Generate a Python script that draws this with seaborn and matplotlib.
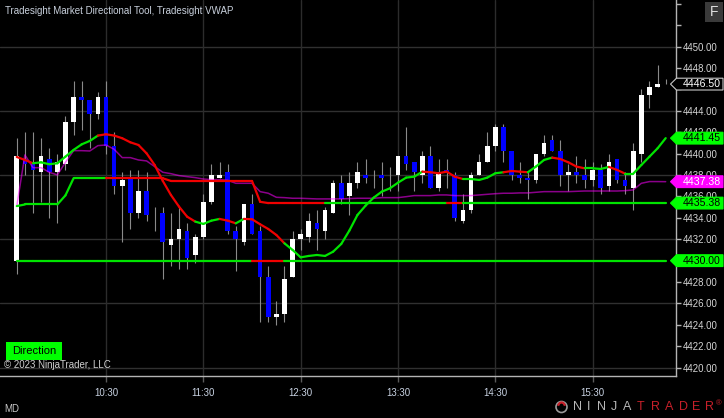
import numpy as np
import pandas as pd
import matplotlib
matplotlib.use('Agg')
import matplotlib.pyplot as plt
import seaborn as sns
from matplotlib.collections import LineCollection
from matplotlib.patches import Polygon, Rectangle, Circle, Arc

# ES 5-minute bars, 09:35 .. 16:15 (bar close time)
opens = [4430.0, 4439.5, 4439.0, 4438.25, 4439.5, 4438.25, 4439.0, 4443.0, 4445.25, 4445.0,
         4443.75, 4445.25, 4440.75, 4437.0, 4437.75, 4434.5, 4436.5, 4434.25, 4434.5, 4431.5,
         4432.0, 4432.75, 4430.5, 4432.25, 4435.5, 4437.75, 4438.25, 4432.75, 4431.75, 4435.25,
         4432.75, 4428.5, 4424.75, 4425.0, 4428.5, 4432.0, 4432.25, 4433.5, 4432.75, 4434.5,
         4437.25, 4436.0, 4437.25, 4438.0, 4437.75, 4438.0, 4437.75, 4438.0, 4439.75, 4439.25,
         4438.0, 4439.75, 4436.75, 4438.5, 4438.0, 4433.75, 4434.75, 4438.0, 4439.25, 4440.75,
         4442.5, 4440.25, 4438.0, 4437.75, 4437.5, 4440.0, 4441.25, 4440.25, 4438.0, 4438.25,
         4438.0, 4437.5, 4438.5, 4437.0, 4439.5, 4437.5, 4436.75, 4440.0, 4445.5, 4446.25,
         4446.5]
highs = [4441.5, 4442.0, 4442.0, 4441.5, 4440.5, 4440.0, 4443.5, 4446.75, 4446.75, 4445.0,
         4445.75, 4446.75, 4442.0, 4438.25, 4438.5, 4438.5, 4438.25, 4435.0, 4435.0, 4434.5,
         4435.0, 4433.5, 4432.5, 4436.25, 4439.0, 4439.25, 4439.0, 4433.25, 4435.25, 4436.25,
         4433.25, 4429.5, 4426.25, 4429.5, 4432.75, 4433.0, 4434.5, 4434.75, 4435.0, 4437.5,
         4438.0, 4438.25, 4439.25, 4439.5, 4438.5, 4439.25, 4438.75, 4439.75, 4442.5, 4439.25,
         4440.25, 4440.75, 4439.5, 4439.5, 4438.25, 4436.25, 4438.25, 4440.0, 4442.0, 4442.75,
         4442.75, 4440.25, 4439.25, 4438.25, 4440.0, 4441.75, 4441.75, 4441.25, 4439.0, 4439.75,
         4439.5, 4439.25, 4439.0, 4440.0, 4439.5, 4438.25, 4441.0, 4446.0, 4446.75, 4448.25,
         4447.0]
lows = [4428.75, 4438.0, 4434.5, 4435.5, 4434.0, 4433.5, 4438.5, 4441.75, 4442.25, 4440.5,
        4443.25, 4440.0, 4436.25, 4431.75, 4433.0, 4434.0, 4433.75, 4432.75, 4428.25, 4429.5,
        4429.25, 4429.25, 4429.75, 4432.0, 4435.25, 4437.75, 4432.5, 4429.0, 4431.5, 4432.5,
        4424.25, 4424.25, 4424.0, 4424.25, 4428.5, 4431.0, 4431.75, 4431.0, 4432.0, 4434.5,
        4435.25, 4434.25, 4436.75, 4437.25, 4436.75, 4436.0, 4436.5, 4436.5, 4438.5, 4436.5,
        4437.25, 4436.75, 4436.5, 4436.75, 4433.75, 4433.5, 4434.5, 4438.0, 4439.25, 4440.25,
        4439.25, 4437.5, 4437.25, 4435.75, 4437.25, 4439.75, 4440.25, 4437.0, 4436.5, 4437.25,
        4436.75, 4437.0, 4436.25, 4436.5, 4437.25, 4436.25, 4434.75, 4439.25, 4444.25, 4446.25,
        4446.5]
closes = [4439.75, 4439.0, 4438.5, 4439.75, 4438.25, 4439.25, 4443.0, 4445.25, 4445.0, 4443.75,
          4445.25, 4440.75, 4437.0, 4437.5, 4434.5, 4436.5, 4434.25, 4434.25, 4431.75, 4432.0,
          4433.0, 4430.25, 4432.25, 4435.5, 4438.0, 4438.0, 4432.75, 4432.0, 4435.25, 4432.5,
          4428.5, 4424.75, 4425.0, 4428.25, 4432.0, 4432.5, 4433.75, 4433.0, 4434.75, 4437.25,
          4435.75, 4437.25, 4438.25, 4437.75, 4437.75, 4437.75, 4437.75, 4439.75, 4439.0, 4438.25,
          4439.75, 4436.75, 4438.25, 4438.25, 4434.0, 4434.75, 4438.0, 4439.25, 4440.75, 4442.5,
          4440.25, 4438.0, 4437.75, 4437.5, 4440.0, 4441.0, 4440.25, 4438.0, 4438.25, 4438.0,
          4437.5, 4438.5, 4436.75, 4439.25, 4437.5, 4437.0, 4440.25, 4445.5, 4446.25, 4446.5,
          4446.5]

# Tradesight VWAP
vwap = [4435.11, 4439.88, 4438.69, 4438.69, 4438.26, 4438.01, 4439.19, 4440.28, 4440.28, 4440.25,
        4440.75, 4440.81, 4440.41, 4439.63, 4439.63, 4439.41, 4439.32, 4438.79, 4438.26, 4438.13,
        4437.95, 4437.85, 4437.76, 4437.63, 4437.57, 4437.57, 4437.51, 4437.23, 4437.23, 4437.23,
        4436.45, 4436.30, 4435.92, 4435.89, 4435.83, 4435.83, 4435.80, 4435.77, 4435.77, 4435.77,
        4435.77, 4435.80, 4435.83, 4435.83, 4435.83, 4435.89, 4435.89, 4435.89, 4435.98, 4436.08,
        4436.08, 4436.08, 4436.14, 4436.14, 4436.08, 4436.08, 4436.08, 4436.14, 4436.20, 4436.26,
        4436.30, 4436.30, 4436.33, 4436.33, 4436.39, 4436.45, 4436.45, 4436.45, 4436.45, 4436.48,
        4436.51, 4436.51, 4436.51, 4436.51, 4436.51, 4436.54, 4436.61, 4437.23, 4437.39, 4437.39,
        4437.38]

# directional tool: smoothed average
trend_ma = [4439.69, 4439.41, 4439.10, 4439.19, 4439.01, 4439.10, 4439.72, 4440.35, 4440.87, 4441.19,
            4441.69, 4441.81, 4441.69, 4441.44, 4441.06, 4440.81, 4440.03, 4438.94, 4437.45, 4436.14,
            4435.05, 4434.11, 4433.65, 4433.43, 4433.74, 4433.90, 4433.74, 4433.49, 4433.90, 4433.87,
            4433.40, 4432.96, 4432.40, 4431.62, 4431.00, 4430.31, 4430.44, 4430.53, 4430.44, 4430.84,
            4431.56, 4432.81, 4434.27, 4435.14, 4435.89, 4436.45, 4436.76, 4437.29, 4437.76, 4437.85,
            4438.32, 4438.26, 4438.17, 4438.32, 4437.85, 4437.63, 4437.63, 4437.54, 4437.76, 4438.17,
            4438.26, 4438.38, 4438.32, 4438.26, 4438.79, 4439.41, 4439.63, 4439.50, 4439.19, 4438.79,
            4438.63, 4438.63, 4438.57, 4438.76, 4438.48, 4438.13, 4438.13, 4438.94, 4439.72, 4440.50,
            4441.45]
ma_runs = [('R', 2), ('G', 8), ('R', 12), ('G', 3), ('R', 2), ('G', 1), ('R', 5), ('G', 17),
           ('R', 5), ('G', 5), ('R', 3), ('G', 3), ('R', 4), ('G', 3), ('R', 2), ('G', 6)]

# directional tool: stepped level
dir_level = [4435.10, 4435.25, 4435.25, 4435.25, 4435.25, 4435.25, 4436.10, 4437.70, 4437.70, 4437.70,
             4437.70, 4437.70, 4437.70, 4437.70, 4437.70, 4437.70, 4437.70, 4437.70, 4437.70, 4437.45,
             4437.45, 4437.45, 4437.45, 4437.45, 4437.45, 4437.45, 4437.45, 4437.45, 4437.45, 4437.45,
             4435.50, 4435.38, 4435.38, 4435.38, 4435.38, 4435.38, 4435.38, 4435.38, 4435.38, 4435.38,
             4435.38, 4435.38, 4435.38, 4435.38, 4435.38, 4435.38, 4435.38, 4435.38, 4435.38, 4435.38,
             4435.38, 4435.38, 4435.38, 4435.38, 4435.38, 4435.38, 4435.38, 4435.38, 4435.38, 4435.38,
             4435.38, 4435.38, 4435.38, 4435.38, 4435.38, 4435.38, 4435.38, 4435.38, 4435.38, 4435.38,
             4435.38, 4435.38, 4435.38, 4435.38, 4435.38, 4435.38, 4435.38, 4435.38, 4435.38, 4435.38,
             4435.38]
dir_runs = [('G', 11), ('R', 27), ('G', 15), ('R', 2), ('G', 26)]

# opening level
open_level = 4430.00
open_runs = [('G', 29), ('R', 4), ('G', 48)]

time_labels = ['10:30', '11:30', '12:30', '13:30', '14:30', '15:30']
time_bars = [11, 23, 35, 47, 59, 71]
price_ticks = list(range(4420, 4456, 2))
hidden_ticks = [4430, 4446, 4452, 4454]   # under price tags / off the scale
grid_levels = [4420, 4426, 4432, 4438, 4444, 4450]

GREEN = '#00e400'
RED = '#f00000'
W, H = 724, 418

sns.set_theme(style='dark', rc={'axes.facecolor': 'black', 'figure.facecolor': 'black',
                                'savefig.facecolor': 'black', 'axes.grid': False})
plt.rcParams['font.family'] = ['Liberation Sans', 'DejaVu Sans']

df = pd.DataFrame({'bar': np.arange(len(opens)), 'open': opens, 'high': highs,
                   'low': lows, 'close': closes, 'vwap': vwap, 'ma': trend_ma,
                   'dir': dir_level})

fig = plt.figure(figsize=(W / 100, H / 100), dpi=100)
ax = fig.add_axes([0, 42 / H, 676 / W, 376 / H])
ax.set_xlim(-2.07, 81.27)
ax.set_ylim(4419.22, 4454.36)

# grid
for g in grid_levels:
    ax.axhline(g, color='#303030', lw=1, zorder=0.5)
for t in time_bars:
    ax.axvline(t, color='#2c2c2c', lw=1, zorder=0.5)

# candles
ax.vlines(df['bar'], df['low'], df['high'], color='#8a8a8a', lw=0.8, zorder=2)
body_col = np.where(df['close'] >= df['open'], '#ffffff', '#0000ff')
ax.bar(df['bar'], (df['close'] - df['open']).abs(), bottom=df[['open', 'close']].min(axis=1),
       width=0.58, color=body_col, linewidth=0, zorder=3)

# VWAP
sns.lineplot(data=df, x='bar', y='vwap', color='#ff00ff', alpha=0.55, lw=1.1, ax=ax, zorder=4)


def expand(runs):
    return ''.join(s * n for s, n in runs)


def two_color_line(values, runs, lw=1.6):
    states = expand(runs)
    pts = np.column_stack([df['bar'], values])
    segs = np.stack([pts[:-1], pts[1:]], axis=1)
    cols = [GREEN if s == 'G' else RED for s in states[:len(segs)]]
    ax.add_collection(LineCollection(segs, colors=cols, linewidths=lw, zorder=5,
                                     capstyle='round', joinstyle='round'))


two_color_line([open_level] * len(df), open_runs)
two_color_line(df['dir'], dir_runs)
two_color_line(df['ma'], ma_runs)

ax.set_xlabel('')
ax.set_ylabel('')

# axes
ax.set_xticks(time_bars)
ax.set_xticklabels(time_labels)
ax.yaxis.tick_right()
ax.set_yticks(price_ticks)
ax.set_yticklabels(['' if p in hidden_ticks else f'{p:.2f}' for p in price_ticks])
ax.tick_params(axis='x', length=4, width=1, color='#5a5a5a', labelsize=7, pad=5,
               labelcolor='#c8d2e2', bottom=True)
ax.tick_params(axis='y', length=3.3, width=1, color='#b4b4b4', labelsize=6.9, pad=1.8,
               labelcolor='#d6d6d6', right=True, left=False)
for s in ['top', 'left']:
    ax.spines[s].set_visible(False)
for s in ['right', 'bottom']:
    ax.spines[s].set_color('#b4b4b4')
    ax.spines[s].set_linewidth(1)

# price tags on the right
fig.canvas.draw()
px_per_pt = ax.transData.transform((0, 1))[1] - ax.transData.transform((0, 0))[1]
hh = 5.9 / px_per_pt
tr = ax.get_yaxis_transform()


def price_tag(price, face, text_color, edge=None):
    x0, x1, x2 = 670.5 / 676, 676.5 / 676, 723 / 676
    poly = Polygon([(x0, price), (x1, price + hh), (x2, price + hh), (x2, price - hh),
                    (x1, price - hh)], closed=True, transform=tr, clip_on=False,
                   facecolor=face, edgecolor=edge if edge else face, lw=0.8, zorder=20)
    ax.add_patch(poly)
    ax.text(683 / 676, price, f'{price:.2f}', transform=tr, clip_on=False, ha='left',
            va='center', fontsize=7.6, color=text_color, zorder=21)


price_tag(closes[-1], '#000000', '#ffffff', edge='#c8c8c8')
price_tag(trend_ma[-1], '#00ff00', '#000000')
price_tag(vwap[-1], '#ff00ff', '#ffffff')
price_tag(dir_level[-1], '#00ff00', '#000000')
price_tag(open_level, '#00ff00', '#000000')

# overlay in pixel coordinates for the chart furniture
ov = fig.add_axes([0, 0, 1, 1], zorder=10)
ov.set_xlim(0, W)
ov.set_ylim(H, 0)
ov.axis('off')

ov.text(5, 11, 'Tradesight Market Directional Tool, Tradesight VWAP', fontsize=7,
        color='#c8d0dc', va='center', ha='left')
ov.add_patch(Rectangle((705, 2), 18, 20, facecolor='#3a3a3a', edgecolor='none'))
ov.text(714, 12.5, 'F', fontsize=10, color='#e0e0e0', ha='center', va='center')

ov.add_patch(Rectangle((6, 342), 56, 18, facecolor='#00ff00', edgecolor='none'))
ov.text(34, 351.5, 'Direction', fontsize=8, color='black', ha='center', va='center')
ov.text(4, 364.5, '\u00a9 2023 NinjaTrader, LLC', fontsize=7, color='#d0d0d0',
        ha='left', va='center')
ov.text(4, 408.5, 'MD', fontsize=7, color='#c8c8c8', ha='left', va='center')

# NinjaTrader logo
ov.add_patch(Circle((561.5, 407), 5.5, facecolor='none', edgecolor='#9a9a9a', lw=1.2))
ov.add_patch(Arc((561.5, 407), 7, 9, theta1=200, theta2=340, color='#c8202a', lw=1.6))
logo_chars = 'NINJATRADER'
logo_x = [577, 589, 601, 614, 627, 641, 655, 669, 683, 696, 709]
for ch, lx, k in zip(logo_chars, logo_x, range(len(logo_chars))):
    ov.text(lx, 407, ch, fontsize=9, color='#b8b8b8' if k < 5 else '#c8202a',
            ha='center', va='center', fontweight='light')
ov.text(719, 403.5, '\u00ae', fontsize=5.5, color='#c8202a', ha='center', va='center')

fig.savefig('out.png', dpi=100, facecolor='black')
